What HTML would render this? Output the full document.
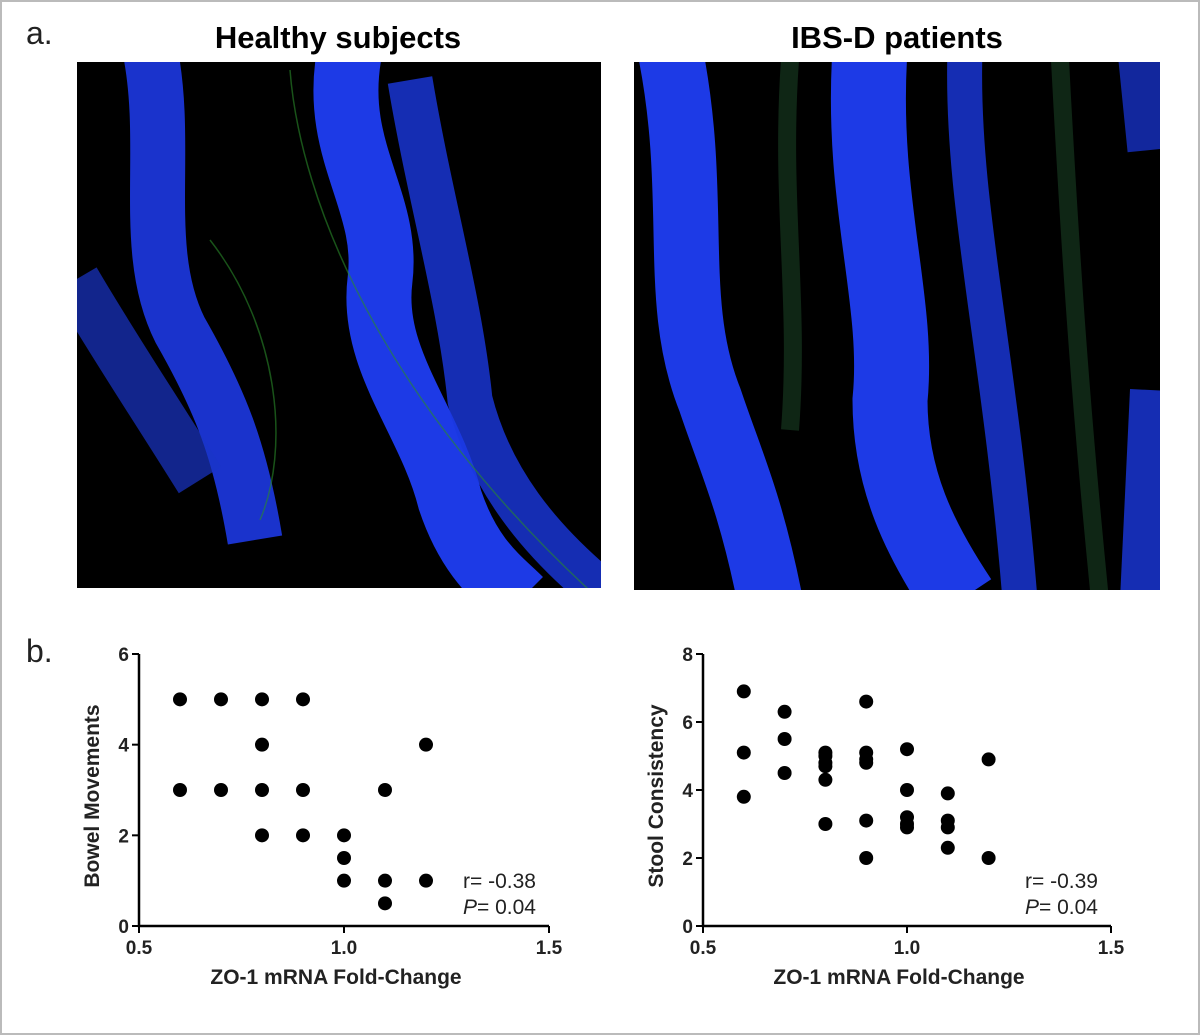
<!DOCTYPE html>
<html><head><meta charset="utf-8"><style>
body{margin:0;background:#fff;font-family:"Liberation Sans",sans-serif;}
#wrap{position:relative;width:1200px;height:1035px;overflow:hidden;}
</style></head><body>
<div id="wrap">
<svg width="1200" height="1035" xmlns="http://www.w3.org/2000/svg" id="svg">
<defs>
<clipPath id="clipL"><rect x="77" y="62" width="524" height="526"/></clipPath>
<clipPath id="clipR"><rect x="634" y="62" width="526" height="528"/></clipPath>
</defs>
<rect x="1" y="1" width="1198" height="1033" fill="#fff" stroke="#bbb" stroke-width="2"/>
<text x="26" y="44" font-size="32" fill="#222">a.</text>
<text x="338" y="48" font-size="31" font-weight="bold" text-anchor="middle">Healthy subjects</text>
<text x="897" y="48" font-size="31" font-weight="bold" text-anchor="middle">IBS-D patients</text>
<g clip-path="url(#clipL)">
<rect x="77" y="62" width="524" height="526" fill="#000"/>
<g fill="none" stroke-linecap="butt">
<path d="M150 50 C170 150 140 250 180 330 C220 400 240 450 255 540" stroke="#1e3cf0" stroke-width="55" opacity="0.85"/>
<path d="M75 280 C110 340 150 400 200 480" stroke="#1a34c8" stroke-width="50" opacity="0.7"/>
<path d="M350 50 C330 150 390 200 380 280 C370 360 430 420 450 500 C470 560 500 580 520 600" stroke="#2040ff" stroke-width="65" opacity="0.9"/>
<path d="M410 80 C430 200 460 300 470 400 C490 480 540 540 600 590" stroke="#1a38e0" stroke-width="45" opacity="0.8"/>
<path d="M290 70 C300 200 380 400 600 600" stroke="#2a8a2a" stroke-width="1.5" opacity="0.6"/>
<path d="M210 240 C280 330 290 450 260 520" stroke="#2a8a2a" stroke-width="1.5" opacity="0.6"/>
</g></g>
<g clip-path="url(#clipR)">
<rect x="634" y="62" width="526" height="528" fill="#000"/>
<g fill="none" stroke-linecap="butt">
<path d="M670 50 C700 200 670 300 710 400 C730 460 750 500 770 600" stroke="#2040ff" stroke-width="65" opacity="0.9"/>
<path d="M870 50 C860 200 900 300 890 400 C890 480 920 540 960 600" stroke="#2040ff" stroke-width="75" opacity="0.9"/>
<path d="M965 50 C960 200 1000 350 1020 600" stroke="#1a38e0" stroke-width="35" opacity="0.8"/>
<path d="M1140 50 L1150 150" stroke="#1a38e0" stroke-width="45" opacity="0.7"/>
<path d="M1150 390 L1140 600" stroke="#1a38e0" stroke-width="40" opacity="0.8"/>
<path d="M790 60 C780 200 800 300 790 430" stroke="#13301a" stroke-width="18" opacity="0.8"/>
<path d="M1060 60 C1070 250 1080 400 1100 600" stroke="#13301a" stroke-width="18" opacity="0.8"/>
</g></g>
<text x="26" y="662" font-size="32" fill="#222">b.</text>
<g id="c1"></g>
<g id="c2"></g>
</svg>
</div>
<script>
const xTicks=[0.5,1.0,1.5];
const bmX=[0.6,0.6,0.7,0.7,0.8,0.8,0.8,0.8,0.9,0.9,0.9,1.0,1.0,1.0,1.1,1.1,1.1,1.2,1.2];
const bmY=[5,3,5,3,5,4,3,2,5,3,2,2,1.5,1,3,1,0.5,4,1];
const bmTicks=[0,2,4,6];
const scX=[0.6,0.6,0.6,0.7,0.7,0.7,0.8,0.8,0.8,0.8,0.8,0.8,0.9,0.9,0.9,0.9,0.9,0.9,1.0,1.0,1.0,1.0,1.0,1.1,1.1,1.1,1.1,1.2,1.2];
const scY=[6.9,5.1,3.8,6.3,5.5,4.5,5.1,5.0,4.8,4.7,4.3,3.0,6.6,5.1,4.9,4.8,3.1,2.0,5.2,4.0,3.2,3.0,2.9,3.9,3.1,2.9,2.3,4.9,2.0];
const scTicks=[0,2,4,6,8];
const NS="http://www.w3.org/2000/svg";
function mk(tag,attrs,parent,txt){const e=document.createElementNS(NS,tag);for(const k in attrs)e.setAttribute(k,attrs[k]);if(txt!==undefined)e.textContent=txt;parent.appendChild(e);return e;}
function chart(g,x0,x1,y0,y1,ymax,xs,ys,yt,ylab,rtxt,name){
  
  
  const sx=v=>x0+(v-0.5)/(1.0)*(x1-x0);
  const sy=v=>y0-v/ymax*(y0-y1);
  const ax=mk('path',{d:`M${x0} ${y1} L${x0} ${y0} L${x1} ${y0}`,stroke:'#000','stroke-width':2.5,fill:'none'},g);
  
  
  xTicks.forEach(t=>{const X=sx(t);mk('line',{x1:X,x2:X,y1:y0,y2:y0+7,stroke:'#000','stroke-width':2},g);
    const tl=mk('text',{x:X,y:y0+28,'font-size':19,'font-weight':'bold','text-anchor':'middle',fill:'#222'},g,t.toFixed(1));
    
    });
  yt.forEach(t=>{const Y=sy(t);mk('line',{x1:x0-7,x2:x0,y1:Y,y2:Y,stroke:'#000','stroke-width':2},g);
    const tl=mk('text',{x:x0-10,y:Y+7,'font-size':19,'font-weight':'bold','text-anchor':'end',fill:'#222'},g,String(t));
    
    });
  const xl=mk('text',{x:(x0+x1)/2-8,y:y0+58,'font-size':21,'font-weight':'bold','text-anchor':'middle',fill:'#222'},g,'ZO-1 mRNA Fold-Change');
  
  
  const yl=mk('text',{x:0,y:0,'font-size':21,'font-weight':'bold','text-anchor':'middle',fill:'#222',transform:`translate(${x0-40},${(y0+y1)/2+6}) rotate(-90)`},g,ylab);
  
  
  xs.forEach((v,i)=>{const c=mk('circle',{cx:sx(v),cy:sy(ys[i]),r:7,fill:'#000'},g);
    
    });
  const r=mk('text',{x:x1-13,y:y0-38,'font-size':21,'text-anchor':'end',fill:'#222'},g,rtxt);
  
  
  const p=mk('text',{x:x1-13,y:y0-12,'font-size':21,'text-anchor':'end',fill:'#222'},g);
  
  
  mk('tspan',{'font-style':'italic'},p,'P');mk('tspan',{},p,'= 0.04');
}
chart(document.getElementById('c1'),139,549,926,654,6,bmX,bmY,bmTicks,'Bowel Movements','r= -0.38','bowel-movements-chart');
chart(document.getElementById('c2'),703,1111,926,654,8,scX,scY,scTicks,'Stool Consistency','r= -0.39','stool-consistency-chart');
</script>
</body></html>
